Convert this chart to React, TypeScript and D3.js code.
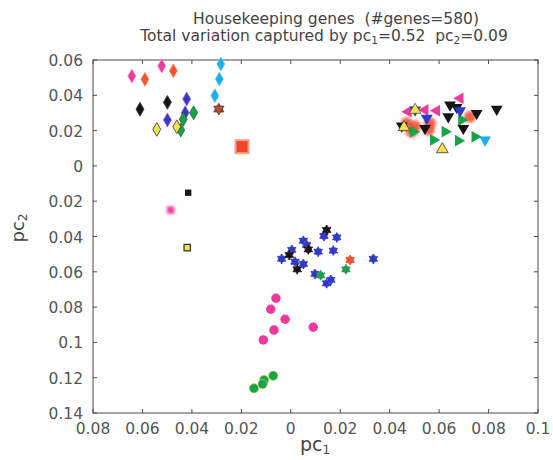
import * as d3 from 'd3';

// pc1 / pc2 coordinates
const diamondPink = [[-0.0643, 0.0509], [-0.0522, 0.0566]];
const diamondOrange = [[-0.059, 0.0491], [-0.0475, 0.0539]];
const diamondCyan = [[-0.0283, 0.0577], [-0.0289, 0.0492], [-0.0307, 0.0398]];
const diamondBlack = [[-0.061, 0.0321], [-0.0499, 0.036]];
const diamondBlue = [[-0.0421, 0.0379], [-0.0427, 0.0301], [-0.0499, 0.026]];
const diamondGreen = [[-0.0393, 0.0301], [-0.0435, 0.0264], [-0.0445, 0.0203]];
const diamondYellow = [[-0.0542, 0.0207], [-0.0461, 0.0222]];
const hexagramBrown = [[-0.0291, 0.0322]];
const bigSquareRed = [[-0.0197, 0.0109]];
const squareBlack = [[-0.0415, -0.0152]];
const squarePink = [[-0.0486, -0.025]];
const squareYellow = [[-0.0419, -0.0463]];

const blurRed = [[0.0563, 0.0241], [0.0489, 0.0194], [0.0725, 0.0279], [0.0469, 0.0241], [0.0503, 0.0225], [0.0558, 0.0205]];
const triPink = [[0.0685, 0.0383], [0.0475, 0.0307], [0.0543, 0.0317], [0.059, 0.0313]];
const triBlack = [[0.0644, 0.0345], [0.0671, 0.0332], [0.0637, 0.0279], [0.0752, 0.0298], [0.0833, 0.0321],
  [0.0698, 0.0213], [0.0543, 0.0213], [0.0449, 0.0226]];
const triBlue = [[0.0685, 0.0313], [0.055, 0.027]];
const triGreen = [[0.0624, 0.0194], [0.0577, 0.0147], [0.0678, 0.0143], [0.0745, 0.0165], [0.0496, 0.0194], [0.0691, 0.026]];
const triCyan = [[0.0786, 0.0147]];
const triYellow = [[0.0613, 0.0094], [0.0458, 0.0219]];
const starYellowBlue = [[0.0503, 0.0317]];

const astBlue = [[0.0186, -0.0405], [0.0134, -0.0397], [0.0051, -0.0424], [0.0064, -0.0448], [0.0111, -0.0486],
  [0.0172, -0.048], [0.0004, -0.0476], [-0.0037, -0.0527], [0.0017, -0.0543], [0.0051, -0.0556],
  [0.0334, -0.0527], [0.0098, -0.0612], [0.0145, -0.0665], [0.0162, -0.0646]];
const astBlack = [[0.0145, -0.0363], [0.0071, -0.0473], [-0.0006, -0.0505], [0.0026, -0.0586]];
const astOrange = [[0.024, -0.0533]];
const astGreen = [[0.0223, -0.0586], [0.0121, -0.062]];

const circlePink = [[-0.006, -0.075], [-0.0081, -0.0812], [-0.0023, -0.0869], [-0.0068, -0.093], [-0.0111, -0.0986], [0.0091, -0.0914]];
const circleGreen = [[-0.0071, -0.1189], [-0.0108, -0.1213], [-0.0114, -0.1236], [-0.0149, -0.126]];

const xDomain = [-0.08, 0.1];
const yDomain = [0.06, -0.14];

const PINK = '#ee3a9c';
const ORANGE = '#f2522c';
const CYAN = '#1aaeea';
const BLACK = '#151515';
const BLUE = '#2b3dc4';
const GREEN = '#17a24b';
const YELLOW = '#f3e24c';

type Pt = number[];

const App = () => {
  const width = 553;
  const height = 460;
  const x = d3.scaleLinear().domain(xDomain).range([93, 538]);
  const y = d3.scaleLinear().domain(yDomain).range([60, 413]);
  const fmt = (d: number) => d3.format('~g')(Math.abs(d));
  const tri = d3.symbol(d3.symbolTriangle, 60)()!;
  const dia = d3.symbol(d3.symbolDiamond, 55)()!;
  const ast = d3.symbol(d3.symbolAsterisk, 70)()!;
  const sq = d3.symbol(d3.symbolSquare, 40)()!;
  const circ = d3.symbol(d3.symbolCircle, 70)()!;

  const place = (p: Pt, rot = 0) => `translate(${x(p[0])},${y(p[1])}) rotate(${rot})`;

  const diamonds = (pts: Pt[], fill: string, stroke: string) =>
    pts.map((p, i) => <path key={i} d={dia} transform={place(p)} fill={fill} stroke={stroke} strokeWidth={0.8} />);
  const triangles = (pts: Pt[], fill: string, rot: number, stroke = 'none') =>
    pts.map((p, i) => <path key={i} d={tri} transform={place(p, rot)} fill={fill} stroke={stroke} strokeWidth={0.8} />);
  const asterisks = (pts: Pt[], color: string) =>
    pts.map((p, i) => (
      <g key={i} transform={place(p)}>
        <circle r={3.6} fill={color} stroke="#c070d8" strokeOpacity={0.5} strokeWidth={1} />
        <path d={ast} stroke={color} strokeWidth={1.6} fill="none" />
      </g>
    ));
  const circles = (pts: Pt[], fill: string, stroke = 'none') =>
    pts.map((p, i) => <path key={i} d={circ} transform={place(p)} fill={fill} stroke={stroke} strokeWidth={0.6} />);

  const xt = x.ticks(9);
  const yt = y.ticks(10);
  const axisColor = '#4a4a4a';
  const labelColor = '#555';

  return (
    <svg width={width} height={height} style={{ position: 'absolute', left: 0, top: 0, background: '#fff' }}
      fontFamily="'DejaVu Sans', sans-serif">
      <defs>
        <filter id="soft" x="-50%" y="-50%" width="200%" height="200%">
          <feGaussianBlur stdDeviation="1.6" />
        </filter>
      </defs>
      <g fill="#444" fontSize={15.5}>
        <text x={336} y={24} textAnchor="middle">{'Housekeeping genes\u00a0 (#genes=580)'}</text>
        <text x={324} y={41} textAnchor="middle">
          Total variation captured by pc<tspan fontSize={10.5} dy={3}>1</tspan>
          <tspan dy={-3}>{'=0.52\u00a0 pc'}</tspan>
          <tspan fontSize={10.5} dy={3}>2</tspan><tspan dy={-3}>=0.09</tspan>
        </text>
      </g>

      <rect x={93} y={60} width={445} height={353} fill="none" stroke={axisColor} strokeWidth={1} />
      {xt.map((t, i) => (
        <g key={i}>
          <line x1={x(t)} x2={x(t)} y1={413} y2={409} stroke={axisColor} />
          <line x1={x(t)} x2={x(t)} y1={60} y2={64} stroke={axisColor} />
          <text x={x(t)} y={434} textAnchor="middle" fontSize={15.5} fill={labelColor}>{fmt(t)}</text>
        </g>
      ))}
      {yt.map((t, i) => (
        <g key={i}>
          <line x1={93} x2={97} y1={y(t)} y2={y(t)} stroke={axisColor} />
          <line x1={538} x2={534} y1={y(t)} y2={y(t)} stroke={axisColor} />
          <text x={83} y={y(t) + 6} textAnchor="end" fontSize={15.5} fill={labelColor}>{fmt(t)}</text>
        </g>
      ))}
      <text x={300} y={451} fontSize={19} fill="#444">
        pc<tspan fontSize={12} dy={3}>1</tspan>
      </text>
      <text transform="translate(24,228) rotate(-90)" textAnchor="middle" fontSize={18} fill="#444">
        pc<tspan fontSize={12} dy={3}>2</tspan>
      </text>

      {/* right cluster: triangles */}
      {blurRed.map((p, i) => (
        <circle key={i} cx={x(p[0])} cy={y(p[1])} r={6} fill="#f04a30" fillOpacity={0.85} filter="url(#soft)" />
      ))}
      {triangles(triGreen, GREEN, 90)}
      {triangles(triPink, PINK, -90)}
      {triangles(triBlack, BLACK, 180)}
      {triangles(triBlue, BLUE, 180)}
      {triangles(triCyan, CYAN, 180)}
      {triangles(triYellow, YELLOW, 0, '#333')}
      {starYellowBlue.map((p, i) => (
        <g key={i} transform={place(p)}>
          <path d={tri} transform="rotate(180)" fill={BLUE} />
          <path d={tri} fill={YELLOW} stroke="#333" strokeWidth={0.6} />
        </g>
      ))}

      {/* top-left cluster: diamonds */}
      {diamonds(diamondPink, PINK, '#f080c0')}
      {diamonds(diamondOrange, ORANGE, '#f49070')}
      {diamonds(diamondCyan, CYAN, '#60c8f0')}
      {diamonds(diamondBlack, BLACK, '#333')}
      {diamonds(diamondBlue, BLUE, '#c04cd0')}
      {diamonds(diamondGreen, GREEN, '#2a6a30')}
      {diamonds(diamondYellow, YELLOW, '#333')}
      {hexagramBrown.map((p, i) => (
        <g key={i} transform={place(p)}>
          <path d={d3.symbol(d3.symbolTriangle, 45)()!} fill="#b8503a" stroke="#5a2a20" strokeWidth={0.7} />
          <path d={d3.symbol(d3.symbolTriangle, 45)()!} transform="rotate(180)" fill="#b8503a" stroke="#5a2a20" strokeWidth={0.7} />
        </g>
      ))}
      {bigSquareRed.map((p, i) => (
        <g key={i} transform={place(p)}>
          <rect x={-7.5} y={-7.5} width={15} height={15} fill="#f7a08a" />
          <rect x={-5.5} y={-5.5} width={11} height={11} fill="#ef4528" />
        </g>
      ))}
      {squareBlack.map((p, i) => <path key={i} d={sq} transform={place(p)} fill={BLACK} />)}
      {squarePink.map((p, i) => (
        <path key={i} d={d3.symbol(d3.symbolSquare, 55)()!} transform={place(p)} fill={PINK} filter="url(#soft)" />
      ))}
      {squareYellow.map((p, i) => <path key={i} d={sq} transform={place(p)} fill={YELLOW} stroke="#333" strokeWidth={1.2} />)}

      {/* middle cluster: asterisks */}
      {asterisks(astBlue, BLUE)}
      {asterisks(astBlack, BLACK)}
      {asterisks(astOrange, ORANGE)}
      {asterisks(astGreen, GREEN)}

      {/* bottom: circles */}
      {circles(circlePink, PINK)}
      {circles(circleGreen, GREEN, '#e8e050')}
    </svg>
  );
};

export default App;
